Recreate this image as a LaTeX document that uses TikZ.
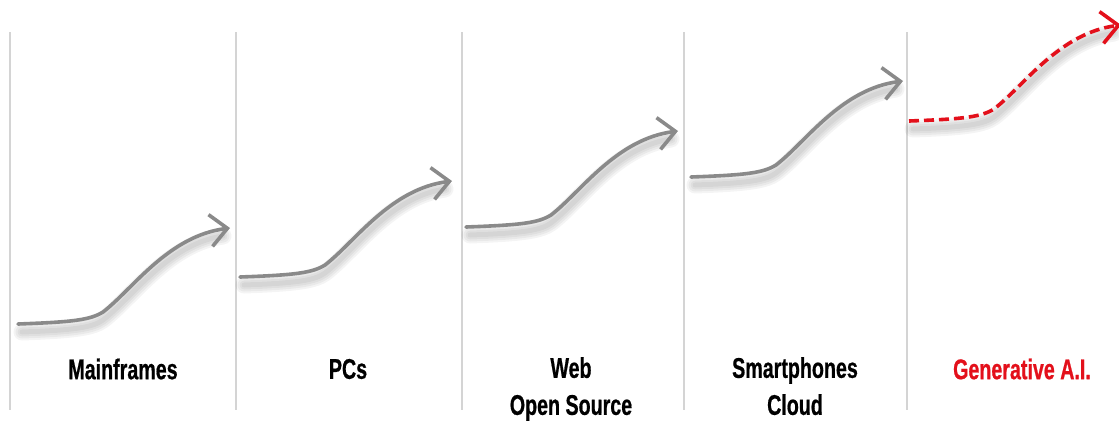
\documentclass[tikz,border=0pt]{standalone}
\usepackage{fontspec}
\newfontfamily\lblfont{Liberation Sans}[FakeStretch=0.69, BoldFeatures={FakeBold=0.6}]
\usetikzlibrary{arrows.meta}
\definecolor{divider}{HTML}{D4D4D4}
\definecolor{wavegray}{HTML}{8A8A8A}
\definecolor{aired}{HTML}{E3101B}
\tikzset{
  divline/.style={draw=divider, line width=1.2pt},
  wavebase/.style={line width=3.6pt, line cap=round},
  graywave/.style={wavebase, draw=wavegray, -{Straight Barb[length=17pt,width=32pt,line width=3.6pt]}},
  redwave/.style={wavebase, draw=aired, dash pattern=on 10pt off 5pt, line cap=butt, -{Straight Barb[length=17pt,width=32pt,line width=3.6pt]}},
  shadowwave/.style={draw=black, line cap=round, opacity=0.045},
  lbl/.style={font=\lblfont\bfseries\fontsize{28.5}{37}\selectfont, align=center, text=black, inner sep=0pt},
  wave/.pic={
    \draw[#1] (0,0) .. controls (55,-2) and (72,-4) .. (85,-12)
      .. controls (115,-35) and (150,-88) .. (212,-96);
  },
  waveshadow/.pic={
    \foreach \w in {5,9,13,17} {
      \draw[shadowwave, line width=\w pt] (4,8) .. controls (60,6) and (75,3) .. (85,-4)
        .. controls (115,-27) and (150,-80) .. (205,-88);
    }
  }
}
\begin{document}
\begin{tikzpicture}[x=1pt, y=-1pt]
  \useasboundingbox (0,0) rectangle (1119,421);
  % dividers
  \foreach \n/\x in {d1/10, d2/236, d3/462, d4/684, d5/907} {
    \coordinate (\n top) at (\x,32);
    \coordinate (\n bot) at (\x,410);
    \draw[divline] (\n top) -- (\n bot);
  }
  % start coordinates of the waves
  \coordinate (s1) at (18,324);
  \coordinate (s2) at (240,277);
  \coordinate (s3) at (466,227);
  \coordinate (s4) at (691,177);
  \coordinate (s5) at (909,121);
  % shadows
  \foreach \s in {s1,s2,s3,s4,s5} { \pic at (\s) {waveshadow}; }
  % waves
  \pic at (s1) {wave=graywave};
  \pic at (s2) {wave=graywave};
  \pic at (s3) {wave=graywave};
  \pic at (s4) {wave=graywave};
  \pic at (s5) {wave=redwave};
  % labels
  \node[lbl] (l1) at (123,369) {Mainframes};
  \node[lbl] (l2) at (348,369) {PCs};
  \node[lbl, anchor=north] (l3) at (571,357) {Web\\Open Source};
  \node[lbl, anchor=north] (l4) at (795,357) {Smartphones\\Cloud};
  \node[lbl, text=aired] (l5) at (1022,369) {Generative A.I.};
\end{tikzpicture}
\end{document}
